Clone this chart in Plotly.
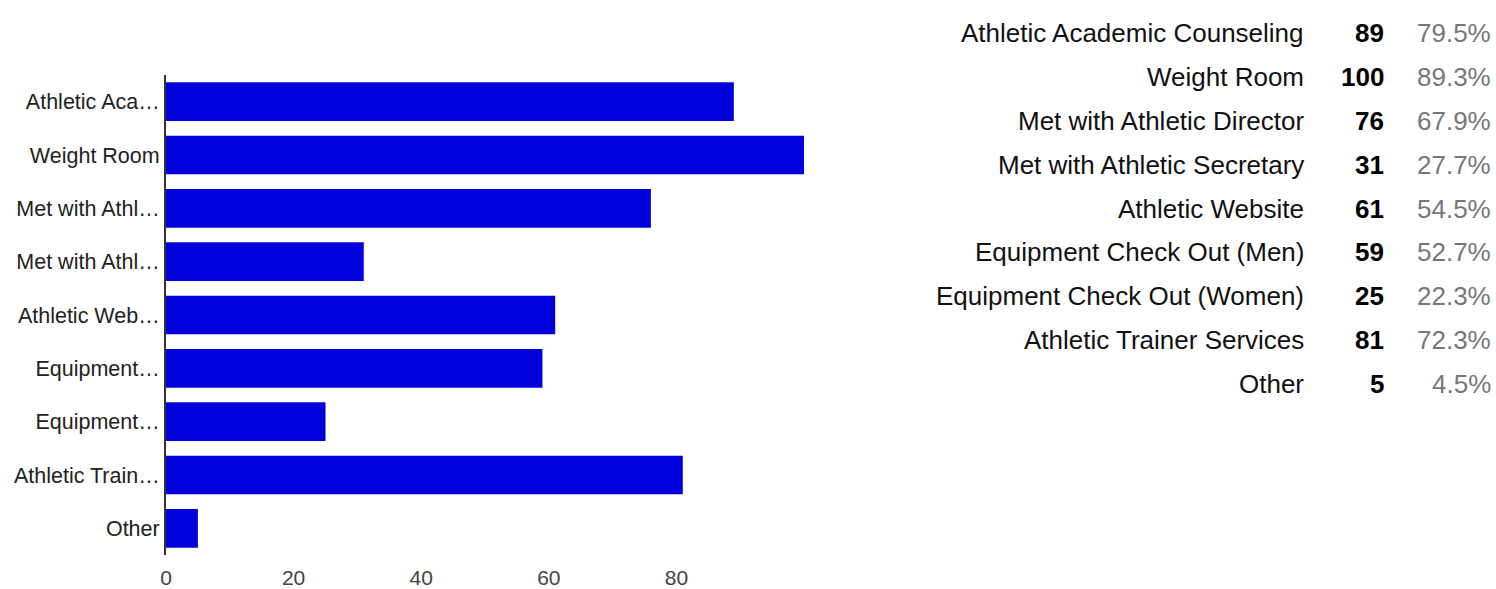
import plotly.graph_objects as go

# ---- data ----
categories = [
    "Athletic Academic Counseling",
    "Weight Room",
    "Met with Athletic Director",
    "Met with Athletic Secretary",
    "Athletic Website",
    "Equipment Check Out (Men)",
    "Equipment Check Out (Women)",
    "Athletic Trainer Services",
    "Other",
]
short_labels = [
    "Athletic Aca…",
    "Weight Room",
    "Met with Athl…",
    "Met with Athl…",
    "Athletic Web…",
    "Equipment…",
    "Equipment…",
    "Athletic Train…",
    "Other",
]
counts = [89, 100, 76, 31, 61, 59, 25, 81, 5]
percents = ["79.5%", "89.3%", "67.9%", "27.7%", "54.5%", "52.7%", "22.3%", "72.3%", "4.5%"]
x_tick_values = [0, 20, 40, 60, 80]

# ---- layout geometry (page pixels) ----
W, H = 1496, 589
L, R = 166, 804
T, B = 75, 555
FONT = "Liberation Sans, Arial, sans-serif"

def px_x(p):
    return (p - L) / (R - L)

def px_y(p):
    return (B - p) / (B - T)

fig = go.Figure()
fig.add_trace(go.Bar(
    y=list(range(len(categories))),
    x=counts,
    orientation="h",
    marker=dict(color="#0000DC", line=dict(width=0)),
    width=0.725,
    hovertext=categories,
    hoverinfo="text+x",
))

annotations = []
row0, pitch = 33, 43.9
for i, (name, c, p) in enumerate(zip(categories, counts, percents)):
    yy = px_y(row0 + i * pitch)
    annotations.append(dict(x=px_x(1306), y=yy, xref="paper", yref="paper",
                            text=name, showarrow=False, xanchor="right", yanchor="middle",
                            font=dict(family=FONT, size=26, color="#111")))
    annotations.append(dict(x=px_x(1386), y=yy, xref="paper", yref="paper",
                            text=f"<b>{c}</b>", showarrow=False, xanchor="right", yanchor="middle",
                            font=dict(family=FONT, size=26, color="#000")))
    annotations.append(dict(x=px_x(1493), y=yy, xref="paper", yref="paper",
                            text=p, showarrow=False, xanchor="right", yanchor="middle",
                            font=dict(family=FONT, size=26, color="#777")))

fig.update_layout(
    width=W, height=H,
    margin=dict(l=L, r=W - R, t=T, b=H - B, pad=0, autoexpand=False),
    paper_bgcolor="white", plot_bgcolor="white",
    showlegend=False,
    font=dict(family=FONT, size=21, color="#222"),
    xaxis=dict(range=[0, 100], tickvals=x_tick_values, showgrid=False, zeroline=False,
               showline=False, ticks="", tickfont=dict(size=21, color="#444"),
               ticklabelstandoff=8, automargin=False),
    yaxis=dict(tickvals=list(range(len(categories))), ticktext=short_labels,
               range=[len(categories) - 0.5, -0.5], showgrid=False, zeroline=False,
               showline=True, linecolor="#333", linewidth=2, ticks="",
               tickfont=dict(size=21.5, color="#222"), ticklabelstandoff=0,
               automargin=False),
    annotations=annotations,
    bargap=0.275,
)

fig.write_html(
    "out.html",
    config={"displayModeBar": False},
    post_script="document.body.style.margin='0';document.body.style.overflow='hidden';",
)
